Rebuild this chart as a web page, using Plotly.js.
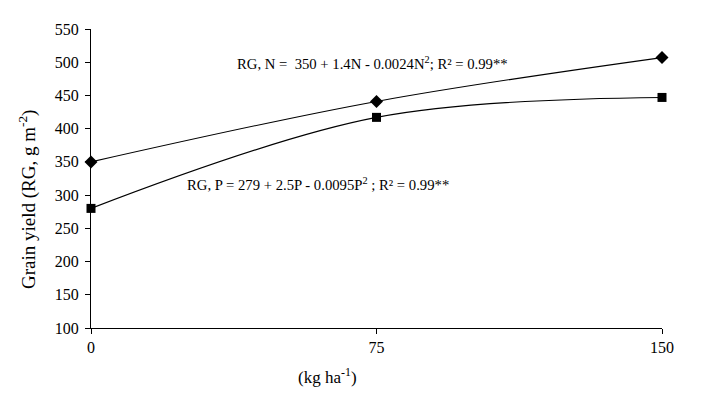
<!DOCTYPE html>
<html>
<head>
<meta charset="utf-8">
<script src="https://cdn.plot.ly/plotly-3.0.1.min.js"></script>
<style>html,body{margin:0;padding:0;background:#fff;}#chart{width:705px;height:403px;}</style>
</head>
<body>
<div id="chart"></div>
<script>
const doses = [0, 75, 150];
const yieldN = [350, 441, 507];
const yieldP = [280, 417, 447];
const xTicks = [0, 75, 150];
const yTicks = [100, 150, 200, 250, 300, 350, 400, 450, 500, 550];
const eqN = "RG, N =  350 + 1.4N - 0.0024N<sup>2</sup>; R² = 0.99**";
const eqP = "RG, P = 279 + 2.5P - 0.0095P<sup>2</sup> ; R² = 0.99**";
const yTitle = "Grain yield (RG, g m<sup>-2</sup>)";
const xTitle = "(kg ha<sup>-1</sup>)";

const font = {family: "Liberation Serif, Times New Roman, serif", color: "#000"};
const f = (s) => Object.assign({size: s}, font);

const PL = 91, PR = 662, PT = 29, PB = 328;
const px = (x) => (x - PL) / (PR - PL);
const py = (y) => (PB - y) / (PB - PT);

const traces = [
  {x: doses, y: yieldN, mode: "lines+markers", type: "scatter", name: "N",
   line: {color: "#000", width: 1.1, shape: "spline", smoothing: 1},
   marker: {symbol: "diamond", size: 10, color: "#000"}, cliponaxis: false},
  {x: doses, y: yieldP, mode: "lines+markers", type: "scatter", name: "P",
   line: {color: "#000", width: 1.1, shape: "spline", smoothing: 1},
   marker: {symbol: "square", size: 9, color: "#000"}, cliponaxis: false}
];

const layout = {
  width: 705, height: 403,
  margin: {l: PL, r: 705 - PR, t: PT, b: 403 - PB},
  paper_bgcolor: "#fff", plot_bgcolor: "#fff",
  showlegend: false,
  font: f(16),
  xaxis: {range: [0, 150], tickvals: xTicks, ticktext: xTicks.map(String),
    showgrid: false, zeroline: false, showline: true, linecolor: "#000", linewidth: 1,
    ticks: "outside", ticklen: 5, tickcolor: "#000", tickfont: f(16)},
  yaxis: {range: [100, 550], tickvals: yTicks, showgrid: false, zeroline: false,
    showline: true, linecolor: "#000", linewidth: 1,
    ticks: "outside", ticklen: 5, tickcolor: "#000", tickfont: f(16),
    ticklabelstandoff: 3},
  annotations: [
    {xref: "paper", yref: "paper", x: px(27), y: py(200), text: yTitle, textangle: -90,
     showarrow: false, xanchor: "center", yanchor: "middle", font: f(19)},
    {xref: "paper", yref: "paper", x: px(327), y: py(376), text: xTitle,
     showarrow: false, xanchor: "center", yanchor: "middle", font: f(17)},
    {xref: "paper", yref: "paper", x: px(235), y: py(63), text: eqN,
     showarrow: false, xanchor: "left", yanchor: "middle", font: f(14.7)},
    {xref: "paper", yref: "paper", x: px(185), y: py(184), text: eqP,
     showarrow: false, xanchor: "left", yanchor: "middle", font: f(14.7)}
  ]
};

Plotly.newPlot("chart", traces, layout, {displayModeBar: false, staticPlot: true});
</script>
</body>
</html>
